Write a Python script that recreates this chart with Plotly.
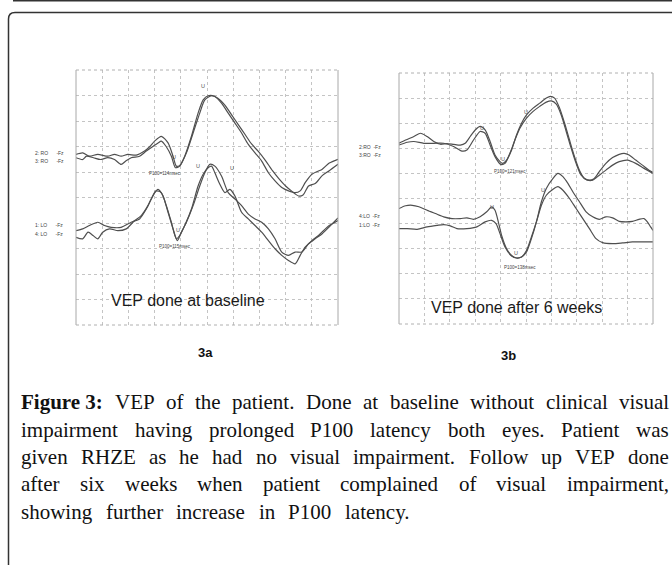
import plotly.graph_objects as go

W, H = 672, 565

# ---------------- data (time in ms, amplitude in grid divisions) ----------------
# Panel 3a : VEP done at baseline
a_ro2_t = [0, 7.7, 15.3, 24.9, 36.4, 44.1, 51.7, 59.4, 69.0, 78.5, 84.3, 90.0, 97.7, 105.4, 111.1, 114.9, 118.8, 124.5,
           132.2, 139.8, 145.6, 151.3, 159.0, 166.6, 174.3, 182.0, 189.6, 197.3, 205.0, 212.6, 220.3, 227.9, 235.6,
           243.3, 250.9, 256.7, 262.4, 270.1, 277.7, 281.6, 290, 300]
a_ro2_v = [6.69, 6.75, 6.62, 6.69, 6.62, 6.69, 6.62, 6.69, 6.66, 6.82, 6.99, 7.21, 7.40, 7.14, 6.62, 6.23, 6.26, 6.62,
           7.40, 8.31, 8.83, 8.99, 8.96, 8.70, 8.31, 7.92, 7.53, 7.08, 6.75, 6.43, 5.97, 5.65, 5.39,
           5.26, 5.19, 5.26, 5.58, 5.91, 6.04, 6.10, 6.35, 6.50]
a_ro3_t = [0, 7.7, 12, 20, 28, 36.4, 44.1, 51.7, 57, 63.2, 72.8, 80.5, 88, 94, 97.7, 103.4, 109.2, 113.8, 118.8, 126.4,
           134.1, 141.7, 147.5, 155.2, 162, 170.5, 178, 186, 194, 201, 209, 217, 225, 232, 240, 247, 254.8, 260,
           266.3, 273.9, 281.6, 290, 300]
a_ro3_v = [6.56, 6.49, 6.62, 6.56, 6.49, 6.56, 6.49, 6.30, 6.43, 6.56, 6.62, 6.82, 7.00, 7.14, 7.21, 6.99, 6.62, 6.17,
           6.23, 6.75, 7.53, 8.31, 8.83, 8.99, 8.90, 8.62, 8.25, 7.85, 7.45, 7.10, 6.80, 6.45, 6.05, 5.75, 5.45,
           5.25, 5.06, 5.10, 5.45, 5.55, 5.85, 6.05, 6.30]
a_lo1_t = [0, 7.7, 15.3, 24.9, 32.6, 40.2, 51.7, 63.2, 72.8, 80.5, 86.2, 91.9, 97.7, 103.4, 109.2, 114.9, 118.8, 124.5,
           132.2, 139.8, 145.6, 151.3, 155.2, 159.0, 164.7, 170.5, 176.2, 182.0, 189.6, 197.3, 205.0, 212.6, 220.3,
           227.9, 235.6, 243.3, 250.9, 256.7, 262.4, 270.1, 277.7, 281.6, 290, 300]
a_lo1_v = [3.70, 3.77, 3.90, 4.03, 3.90, 3.83, 3.83, 4.03, 4.16, 4.55, 4.94, 5.26, 5.19, 4.68, 4.03, 3.38, 3.51, 3.90,
           4.55, 5.45, 5.91, 6.17, 6.23, 5.97, 5.52, 5.19, 5.32, 5.06, 4.42, 4.16, 3.90, 3.64, 3.31,
           2.99, 2.73, 2.53, 2.40, 2.73, 3.05, 3.31, 3.51, 3.64, 3.90, 4.10]
a_lo4_t = [0, 7.7, 13.8, 19.5, 24.9, 30.6, 38.3, 48, 57.5, 67, 74.7, 82.4, 90, 93.9, 99.6, 105.4, 111.1, 116.1, 120.7,
           126.4, 134.1, 141.7, 147.5, 153.2, 159, 166.6, 174.3, 182, 189.6, 197.3, 205, 212.6, 220.3, 227.9,
           235.6, 243.3, 250.9, 258.6, 266.3, 273.9, 281.6, 290, 300]
a_lo4_v = [3.44, 3.38, 3.64, 3.51, 3.38, 3.64, 3.77, 3.70, 3.77, 4.09, 4.29, 4.68, 5.19, 5.32, 5.06, 4.42, 3.77, 3.31,
           3.64, 4.03, 4.68, 5.45, 5.97, 6.30, 6.23, 5.84, 5.19, 4.94, 4.68, 4.35, 4.16, 4.03, 3.77, 3.38,
           2.86, 2.73, 2.86, 2.86, 3.18, 3.38, 3.57, 3.85, 4.20]

# Panel 3b : VEP done after 6 weeks
b_ro2_t = [0, 7.8, 17.6, 25.4, 33.2, 41.1, 48.9, 56.7, 64.5, 72.4, 78.2, 84.1, 90.0, 95.8, 101.7, 107.6, 113.4, 119.3,
           122.4, 127.1, 133.0, 138.8, 144.7, 150.6, 158.4, 166.2, 174.0, 178.7, 183.8, 189.7, 195.6, 201.4, 207.3,
           213.1, 219.0, 224.9, 230.7, 236.6, 244.4, 252.3, 260.1, 265.9, 271.8, 279.6, 287.5, 295.3, 300]
b_ro2_v = [7.20, 7.33, 7.47, 7.60, 7.47, 7.27, 7.16, 7.19, 7.16, 7.13, 7.20, 7.47, 7.73, 7.87, 7.73, 7.27, 6.73, 6.47,
           6.40, 6.53, 6.93, 7.53, 8.00, 8.33, 8.60, 8.80, 9.00, 9.07, 9.00, 8.60, 8.00, 7.33, 6.67,
           6.13, 5.80, 5.73, 5.80, 6.07, 6.40, 6.63, 6.76, 6.80, 6.73, 6.53, 6.33, 6.13, 6.04]
b_ro3_t = [0, 9.8, 17.6, 29.3, 41.1, 52.8, 64.5, 74.3, 80.2, 88.0, 95.8, 101.7, 107.6, 113.4, 120.1, 125.2, 131.0,
           136.9, 142.8, 150.6, 158.4, 166.2, 174.0, 179.9, 185.8, 191.6, 197.5, 203.4, 209.2, 215.1, 222.9, 228.8,
           236.6, 244.4, 252.3, 260.1, 269.9, 279.6, 289.4, 300]
b_ro3_v = [7.13, 7.24, 7.27, 7.20, 7.20, 7.20, 7.07, 6.89, 6.93, 7.33, 7.67, 7.60, 7.13, 6.67, 6.36, 6.40, 6.80,
           7.33, 7.80, 8.20, 8.47, 8.67, 8.84, 8.89, 8.76, 8.33, 7.67, 7.00, 6.40, 5.93, 5.73, 5.73,
           5.93, 6.13, 6.33, 6.47, 6.53, 6.40, 6.20, 6.00]
b_lo4_t = [0, 7.8, 15.6, 23.5, 33.2, 43.0, 52.8, 62.6, 72.4, 80.2, 88.0, 95.8, 103.6, 109.5, 113.4, 117.3, 121.2,
           127.1, 133.0, 138.8, 144.7, 150.6, 156.4, 162.3, 168.2, 174.0, 181.9, 187.7, 193.6, 199.5, 205.3, 213.1,
           221.0, 228.8, 236.6, 244.4, 252.3, 260.1, 267.9, 275.7, 283.5, 289.4, 293.3, 297.2, 300]
b_lo4_v = [4.60, 4.71, 4.73, 4.67, 4.53, 4.40, 4.27, 4.20, 4.20, 4.23, 4.17, 4.27, 4.47, 4.67, 4.53, 4.07, 3.53,
           3.00, 2.73, 2.63, 2.67, 2.87, 3.40, 4.07, 4.87, 5.40, 5.80, 6.00, 5.87, 5.60, 5.27, 4.87,
           4.47, 4.27, 4.17, 4.27, 4.23, 4.09, 4.07, 4.09, 4.17, 4.20, 4.07, 3.87, 3.73]
b_lo1_t = [0, 9.8, 21.5, 33.2, 45.0, 52.8, 60.6, 68.4, 80.2, 91.9, 101.7, 109.5, 114.6, 119.3, 125.2, 133.0, 138.8,
           144.7, 150.6, 156.4, 162.3, 168.2, 174.0, 181.9, 187.7, 193.6, 201.4, 209.2, 217.1, 224.9, 232.7, 240.5,
           252.3, 264.0, 275.7, 287.5, 300]
b_lo1_v = [3.80, 3.80, 3.77, 3.87, 3.93, 3.96, 3.91, 3.80, 3.80, 3.87, 4.07, 4.13, 4.00, 3.60, 3.07, 2.71, 2.63,
           2.67, 2.93, 3.47, 4.07, 4.73, 5.13, 5.37, 5.47, 5.33, 5.00, 4.60, 4.20, 3.80, 3.40, 3.24,
           3.20, 3.23, 3.27, 3.27, 3.27]

channel_labels_a = ["2: RO      -Fz", "3: RO      -Fz", "1: LO      -Fz", "4: LO      -Fz"]
channel_labels_b = ["2:RO  -Fz", "3:RO  -Fz", "4:LO  -Fz", "1:LO  -Fz"]
p100_labels = ["P100=114msec", "P100=115msec", "P100=121msec", "P100=138msec"]
panel_titles = ["VEP done at baseline", "VEP done after 6 weeks"]
panel_ids = ["3a", "3b"]
caption_lines = [
    ["<b>Figure 3:</b>", "VEP", "of", "the", "patient.", "Done", "at", "baseline", "without", "clinical", "visual"],
    ["impairment", "having", "prolonged", "P100", "latency", "both", "eyes.", "Patient", "was"],
    ["given", "RHZE", "as", "he", "had", "no", "visual", "impairment.", "Follow", "up", "VEP", "done"],
    ["after", "six", "weeks", "when", "patient", "complained", "of", "visual", "impairment,"],
    ["showing", "further", "increase", "in", "P100", "latency."],
]

# ---------------- helpers ----------------
def fx(p):
    return p / W

def fy(p):
    return 1 - p / H

fig = go.Figure()
LINE = dict(color="#4f4f4f", width=1.2, shape="spline", smoothing=0.7)
for t, v in [(a_ro2_t, a_ro2_v), (a_ro3_t, a_ro3_v), (a_lo1_t, a_lo1_v), (a_lo4_t, a_lo4_v)]:
    fig.add_trace(go.Scatter(x=t, y=v, mode="lines", line=LINE, hoverinfo="skip", showlegend=False,
                             xaxis="x", yaxis="y"))
for t, v in [(b_ro2_t, b_ro2_v), (b_ro3_t, b_ro3_v), (b_lo4_t, b_lo4_v), (b_lo1_t, b_lo1_v)]:
    fig.add_trace(go.Scatter(x=t, y=v, mode="lines", line=LINE, hoverinfo="skip", showlegend=False,
                             xaxis="x2", yaxis="y2"))

# panel boxes in pixels: (left, top, right, bottom)
boxA = (76, 70, 338, 325)
boxB = (399, 73, 653, 324)

def axis(box, horizontal):
    l, t, r, b = box
    d = dict(showgrid=True, gridcolor="#c4c4c4", griddash="dot", gridwidth=1, showticklabels=False,
             zeroline=False, showline=False, ticks="", fixedrange=True)
    if horizontal:
        d.update(domain=[fx(l), fx(r)], range=[0, 300], tick0=0, dtick=30)
    else:
        d.update(domain=[fy(b), fy(t)], range=[0, 10], tick0=0, dtick=1)
    return d

shapes = []
for box in (boxA, boxB):
    l, t, r, b = box
    for (x0, y0, x1, y1, dash, col) in [(l, t, l, b, "solid", "#a8a8a8"), (r, t, r, b, "solid", "#a8a8a8"),
                                        (l, t, r, t, "dot", "#b0b0b0"), (l, b, r, b, "dot", "#b0b0b0")]:
        shapes.append(dict(type="line", xref="paper", yref="paper", x0=fx(x0), y0=fy(y0), x1=fx(x1), y1=fy(y1),
                           line=dict(color=col, width=1, dash=dash)))

# outer frame with rounded top-left corner
shapes.append(dict(type="path", xref="paper", yref="paper",
                   path=f"M {fx(8.5)},{fy(566)} L {fx(8.5)},{fy(19)} Q {fx(8.5)},{fy(12.5)} {fx(15)},{fy(12.5)} L {fx(673)},{fy(12.5)}",
                   line=dict(color="#333333", width=1.5)))
shapes.append(dict(type="line", xref="paper", yref="paper", x0=fx(13), y0=fy(0.8), x1=fx(673), y1=fy(0.8),
                   line=dict(color="#333333", width=1.5)))

ann = []
def add_text(txt, x, y, size, xanchor="left", color="#444444", family="Liberation Sans"):
    ann.append(dict(text=txt, x=fx(x), y=fy(y), xref="paper", yref="paper", showarrow=False,
                    xanchor=xanchor, yanchor="middle", font=dict(size=size, color=color, family=family)))

# channel labels
for txt, y in zip(channel_labels_a, [153, 161, 225, 234]):
    add_text(txt, 33, y, 5)
for txt, y in zip(channel_labels_b, [147, 155, 216, 225]):
    add_text(txt, 357, y, 5)
# P100 labels
for txt, (x, y) in zip(p100_labels, [(165, 173), (175, 247), (510, 172), (520, 267)]):
    add_text(txt, x, y, 4.5, xanchor="center")
# small peak markers
for (x, y) in [(174, 157), (203, 86), (198, 166), (178, 230), (232, 168)]:
    add_text("U", x, y, 5.5, xanchor="center", color="#555555")
for (x, y) in [(482, 128), (503, 159), (526, 112), (492, 207), (516, 253), (543, 190)]:
    add_text("U", x, y, 5.5, xanchor="center", color="#555555")
# panel titles
add_text(panel_titles[0], 109, 300, 16, color="#1a1a1a", family="Liberation Sans, Arial")
add_text(panel_titles[1], 429, 307, 16, color="#1a1a1a", family="Liberation Sans, Arial")
add_text("<b>" + panel_ids[0] + "</b>", 205, 352, 13, xanchor="center", color="#111111")
add_text("<b>" + panel_ids[1] + "</b>", 508, 355, 13, xanchor="center", color="#111111")

# caption, justified using Times-like metrics
TW = {' ': 250, 'a': 444, 'b': 500, 'c': 444, 'd': 500, 'e': 444, 'f': 333, 'g': 500, 'h': 500, 'i': 278,
      'j': 278, 'k': 500, 'l': 278, 'm': 778, 'n': 500, 'o': 500, 'p': 500, 'q': 500, 'r': 333, 's': 389,
      't': 278, 'u': 500, 'v': 500, 'w': 722, 'x': 500, 'y': 500, 'z': 444, '.': 250, ',': 250, ':': 278,
      'A': 722, 'D': 722, 'E': 611, 'F': 556, 'H': 722, 'P': 556, 'R': 667, 'V': 722, 'Z': 611}
TWB = {'F': 611, 'i': 278, 'g': 500, 'u': 556, 'r': 444, 'e': 444, ' ': 250, '3': 500, ':': 333}
CAP = 21
def width(word):
    if word.startswith("<b>"):
        w = word[3:-4]
        return sum(TWB.get(c, 500) for c in w) * CAP / 1000
    return sum(TW.get(c, 500) for c in word) * CAP / 1000

cap_y = [402, 430, 457, 484, 512]
line_right = [668, 668, 668, 668, 410]
left = 20
for i, (words, y) in enumerate(zip(caption_lines, cap_y)):
    ws = [width(w) for w in words]
    gap = (line_right[i] - left - sum(ws)) / (len(words) - 1)
    x = left
    for w, wd in zip(words, ws):
        add_text(w, x - 1, y, CAP, color="#111111", family="Liberation Serif")
        x += wd + gap

fig.update_layout(
    width=W, height=H, margin=dict(l=0, r=0, t=0, b=0),
    paper_bgcolor="white", plot_bgcolor="white",
    xaxis=axis(boxA, True), yaxis=axis(boxA, False),
    xaxis2=axis(boxB, True), yaxis2=axis(boxB, False),
    shapes=shapes, annotations=ann, showlegend=False,
)
fig.write_html("out.html", config={"displayModeBar": False, "staticPlot": True},
               post_script="document.body.style.margin='0';document.body.style.overflow='hidden';")
